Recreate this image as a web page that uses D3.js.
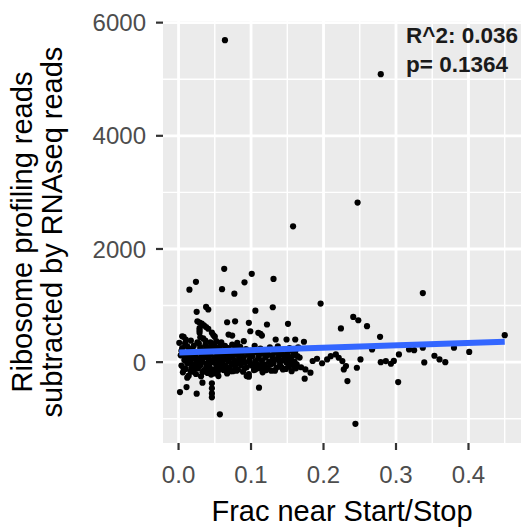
<!DOCTYPE html>
<html>
<head>
<meta charset="utf-8">
<script src="https://cdn.jsdelivr.net/npm/d3@7"></script>
<style>
  body { margin: 0; background: #fff; }
  svg { display: block; font-family: "Liberation Sans", Arial, sans-serif; }
  .grid--major { stroke: #fff; stroke-width: 2.8; }
  .grid--minor { stroke: #fff; stroke-width: 1.4; }
  .tick-mark { stroke: #333; stroke-width: 2.2; }
  .tick-label { fill: #4d4d4d; font-size: 24px; }
  .axis-title { fill: #000; font-size: 29px; }
  .note { fill: #1a1a1a; font-size: 22.5px; font-weight: bold; }
</style>
</head>
<body>
<div id="chart"></div>
<script>
// [frac near start/stop, ribo reads - RNAseq reads]
const samples = [
  // outliers / sparse points
  [0.064, 5690], [0.279, 5090], [0.158, 2400], [0.247, 2820], [0.337, 1220],
  [0.196, 1035], [0.063, 1650], [0.101, 1560], [0.024, 1420], [0.015, 1280],
  [0.060, 1290], [0.091, 1410], [0.077, 1210], [0.131, 1470], [0.038, 975],
  [0.025, 890], [0.041, 930], [0.106, 910], [0.130, 970], [0.224, 595],
  [0.241, 800], [0.248, 740], [0.260, 635], [0.067, 705], [0.078, 722],
  [0.097, 695], [0.122, 665], [0.151, 677], [0.026, 722], [0.278, 448],
  [0.450, 476], [0.113, 500], [0.069, 488], [0.173, 360], [0.161, 400],
  [0.149, 400], [0.007, 448], [0.099, 546], [0.110, 518], [0.115, 470],
  [0.134, 400], [0.074, 470], [0.081, 342], [0.090, 370], [0.005, 458],
  [0.010, 400], [0.001, 342],
  // right side
  [0.318, 224], [0.325, 211], [0.337, 254], [0.380, 254], [0.401, 180],
  [0.339, -5], [0.353, 113], [0.360, 48], [0.368, 0], [0.304, 136],
  [0.297, 21], [0.303, -352], [0.279, 0], [0.286, 18], [0.293, -28],
  [0.267, 224], [0.244, -1090], [0.233, -335], [0.228, -129], [0.246, -99],
  [0.231, -70], [0.226, 18], [0.221, 78], [0.217, 136], [0.210, 106],
  [0.205, 48], [0.191, 60], [0.251, 48], [0.175, -129], [0.182, -187],
  [0.174, -293], [0.164, 106], [0.150, 48], [0.159, -10], [0.159, -70],
  [0.185, 20], [0.198, -20],
  // lower left
  [0.002, -529], [0.011, -440], [0.025, -557], [0.033, -363], [0.046, -375],
  [0.046, -463], [0.046, -552], [0.046, -622], [0.055, -247], [0.111, -451],
  [0.057, -922], [0.097, -257], [0.012, -275], [0.094, -247], [0.117, -129],
  [0.106, -129],
  // "D" shaped clump
  [0.029, 700], [0.029, 600], [0.029, 520], [0.030, 440], [0.035, 650],
  [0.041, 590], [0.046, 520], [0.050, 450], [0.052, 370], [0.037, 380],
  [0.044, 350], [0.032, 680], [0.038, 620], [0.029, 560], [0.048, 480],
  // dense band
  [0.003, 120], [0.004, -60], [0.005, 250], [0.006, -180], [0.008, 40],
  [0.009, 330], [0.010, -120], [0.011, 170], [0.012, -20], [0.013, 90],
  [0.014, -240], [0.015, 210], [0.016, 0], [0.017, 380], [0.018, -90],
  [0.019, 140], [0.020, 60], [0.020, -170], [0.021, 290], [0.022, -40],
  [0.023, 110], [0.024, -210], [0.025, 20], [0.026, 350], [0.027, -110],
  [0.028, 190], [0.029, 70], [0.030, -60], [0.030, 260], [0.031, -250],
  [0.032, 150], [0.033, 10], [0.034, 420], [0.035, -150], [0.036, 90],
  [0.037, 300], [0.038, -30], [0.039, 180], [0.040, -190], [0.041, 60],
  [0.042, 240], [0.043, -90], [0.044, 130], [0.045, -220], [0.046, 320],
  [0.047, 0], [0.048, 190], [0.049, -130], [0.050, 80], [0.051, 270],
  [0.052, -50], [0.053, 160], [0.054, -180], [0.055, 30], [0.056, 230],
  [0.057, -80], [0.058, 110], [0.059, 350], [0.060, -20], [0.061, 200],
  [0.062, -140], [0.063, 60], [0.064, 290], [0.065, -60], [0.066, 140],
  [0.067, -200], [0.068, 20], [0.069, 250], [0.070, -100], [0.071, 180],
  [0.072, 90], [0.073, -30], [0.074, 310], [0.075, -160], [0.076, 120],
  [0.077, 30], [0.078, -80], [0.079, 220], [0.080, -10], [0.081, 150],
  [0.082, -130], [0.084, 60], [0.085, 270], [0.086, -50], [0.088, 170],
  [0.089, -170], [0.090, 90], [0.092, 0], [0.093, 230], [0.094, -90],
  [0.096, 130], [0.097, -210], [0.098, 40], [0.100, 200], [0.101, -60],
  [0.102, 110], [0.104, -140], [0.105, 290], [0.106, 20], [0.108, -30],
  [0.109, 170], [0.110, 70], [0.112, -110], [0.113, 240], [0.115, 30],
  [0.116, -180], [0.117, 150], [0.119, -40], [0.120, 80], [0.122, 200],
  [0.123, -90], [0.125, 10], [0.126, 260], [0.128, -150], [0.129, 120],
  [0.131, -20], [0.132, 190], [0.134, 50], [0.135, -100], [0.137, 280],
  [0.138, 100], [0.140, -50], [0.141, 170], [0.143, 30], [0.144, -130],
  [0.146, 220], [0.147, 70], [0.149, -10], [0.150, 150], [0.152, -80],
  [0.153, 250], [0.155, 60], [0.156, -160], [0.158, 120], [0.160, 10],
  [0.161, 190], [0.163, -40], [0.165, 260], [0.167, 80], [0.169, -90],
  // more of the dense band
  [0.004, 200], [0.007, -110], [0.009, 80], [0.012, 280], [0.014, 30],
  [0.017, -160], [0.019, 240], [0.022, -120], [0.024, 160], [0.027, -20],
  [0.028, 330], [0.031, 40], [0.033, -180], [0.035, 210], [0.038, -100],
  [0.040, 110], [0.042, -30], [0.044, 270], [0.046, -140], [0.048, 40],
  [0.050, -200], [0.052, 210], [0.054, 90], [0.056, -120], [0.058, 300],
  [0.060, 20], [0.062, 130], [0.064, -100], [0.066, 240], [0.068, -130],
  [0.070, 60], [0.072, -160], [0.074, 180], [0.076, -40], [0.078, 280],
  [0.080, -150], [0.083, 110], [0.087, 10], [0.091, -110], [0.095, 190],
  [0.099, -20], [0.103, 160], [0.107, -80], [0.111, 120], [0.114, -50],
  [0.118, 210], [0.121, -140], [0.124, 130], [0.127, -40], [0.130, 60],
  [0.133, -150], [0.136, 160], [0.139, 20], [0.142, -90], [0.145, 120],
  [0.148, -120], [0.151, 90], [0.154, -30], [0.157, 200], [0.162, -110]
];

// lm fit: intercept, slope
const fitCoefs = [170, 420];

const xTicks = [0, 0.1, 0.2, 0.3, 0.4];
const xMinorTicks = [0.05, 0.15, 0.25, 0.35, 0.45];
const yTicks = [0, 2000, 4000, 6000];
const yMinorTicks = [-1000, 1000, 3000, 5000];

const xTitle = "Frac near Start/Stop";
const yTitleLines = ["Ribosome profiling reads", "subtracted by RNAseq reads"];
const noteLines = ["R^2: 0.036", "p= 0.1364"];

class FitScatter {
  constructor({ el, data, coefs }) {
    this.el = el;
    this.data = data;
    this.coefs = coefs;
    this.setup();
    this.render();
  }

  setup() {
    this.width = 523;
    this.height = 529;
    this.marginTop = 21;
    this.marginRight = 2;
    this.marginBottom = 86;
    this.marginLeft = 163;
    this.tickSize = 7;

    // ggplot-style 5% expansion
    const expand = ([a, b]) => [a - (b - a) * 0.05, b + (b - a) * 0.05];
    this.x = d3
      .scaleLinear()
      .domain(expand(d3.extent(this.data, (d) => d[0])))
      .range([this.marginLeft, this.width - this.marginRight]);
    this.y = d3
      .scaleLinear()
      .domain(expand(d3.extent(this.data, (d) => d[1])))
      .range([this.height - this.marginBottom, this.marginTop]);

    this.svg = d3
      .select(this.el)
      .append("svg")
      .attr("width", this.width)
      .attr("height", this.height);
  }

  render() {
    const { x, y, svg } = this;
    const [x0, x1] = x.range();
    const [y0, y1] = y.range();

    svg
      .append("rect")
      .attr("x", x0)
      .attr("y", y1)
      .attr("width", x1 - x0)
      .attr("height", y0 - y1)
      .attr("fill", "#ebebeb");

    const grid = svg.append("g");
    grid
      .selectAll(".gx-minor")
      .data(xMinorTicks)
      .join("line")
      .attr("class", "grid--minor")
      .attr("x1", x).attr("x2", x)
      .attr("y1", y0).attr("y2", y1);
    grid
      .selectAll(".gy-minor")
      .data(yMinorTicks)
      .join("line")
      .attr("class", "grid--minor")
      .attr("y1", y).attr("y2", y)
      .attr("x1", x0).attr("x2", x1);
    grid
      .selectAll(".gx")
      .data(xTicks)
      .join("line")
      .attr("class", "grid--major")
      .attr("x1", x).attr("x2", x)
      .attr("y1", y0).attr("y2", y1);
    grid
      .selectAll(".gy")
      .data(yTicks)
      .join("line")
      .attr("class", "grid--major")
      .attr("y1", y).attr("y2", y)
      .attr("x1", x0).attr("x2", x1);

    // points
    svg
      .append("g")
      .selectAll("circle")
      .data(this.data)
      .join("circle")
      .attr("cx", (d) => x(d[0]))
      .attr("cy", (d) => y(d[1]))
      .attr("r", 3.1)
      .attr("fill", "#000");

    // regression line over the data range
    const [a, b] = this.coefs;
    const xr = d3.extent(this.data, (d) => d[0]);
    svg
      .append("path")
      .datum(xr.map((v) => [v, a + b * v]))
      .attr("fill", "none")
      .attr("stroke", "#3366ff")
      .attr("stroke-width", 6)
      .attr("d", d3.line().x((d) => x(d[0])).y((d) => y(d[1])));

    // axes
    const gx = svg.append("g");
    gx.selectAll("line")
      .data(xTicks)
      .join("line")
      .attr("class", "tick-mark")
      .attr("x1", x).attr("x2", x)
      .attr("y1", y0).attr("y2", y0 + this.tickSize);
    gx.selectAll("text")
      .data(xTicks)
      .join("text")
      .attr("class", "tick-label")
      .attr("x", x)
      .attr("y", 483)
      .attr("text-anchor", "middle")
      .text(d3.format(".1f"));

    const gy = svg.append("g");
    gy.selectAll("line")
      .data(yTicks)
      .join("line")
      .attr("class", "tick-mark")
      .attr("y1", y).attr("y2", y)
      .attr("x1", x0 - this.tickSize).attr("x2", x0);
    gy.selectAll("text")
      .data(yTicks)
      .join("text")
      .attr("class", "tick-label")
      .attr("x", 146)
      .attr("y", y)
      .attr("dy", "0.36em")
      .attr("text-anchor", "end")
      .text((d) => d);

    svg
      .append("text")
      .attr("class", "axis-title")
      .attr("x", (x0 + x1) / 2)
      .attr("y", 521)
      .attr("text-anchor", "middle")
      .text(xTitle);

    svg
      .append("g")
      .attr("transform", `translate(0,${(y0 + y1) / 2}) rotate(-90)`)
      .selectAll("text")
      .data(yTitleLines)
      .join("text")
      .attr("class", "axis-title")
      .attr("text-anchor", "middle")
      .attr("x", 0)
      .attr("y", (d, i) => 32 + i * 30)
      .text((d) => d);

    svg
      .append("g")
      .selectAll("text")
      .data(noteLines)
      .join("text")
      .attr("class", "note")
      .attr("x", 406)
      .attr("y", (d, i) => 43 + i * 28.5)
      .text((d) => d);
  }
}

new FitScatter({
  el: document.getElementById("chart"),
  data: samples,
  coefs: fitCoefs,
});
</script>
</body>
</html>
